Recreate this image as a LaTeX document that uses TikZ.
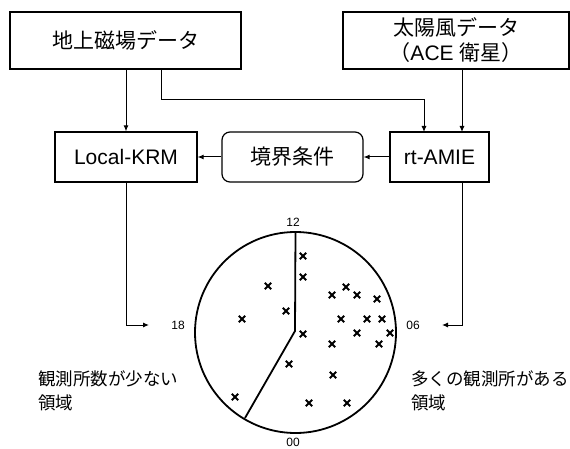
\documentclass[tikz,border=0pt]{standalone}
\usepackage{fontspec}
\setmainfont{Liberation Sans}
\newfontfamily\jp{Noto Sans CJK JP}
\usetikzlibrary{arrows.meta}
\begin{document}
\begin{tikzpicture}[x=1pt,y=-1pt,
  box/.style={draw,line width=1.2pt,inner sep=0pt,font=\fontsize{21}{25}\selectfont},
  rbox/.style={box,rounded corners=8pt},
  conn/.style={line width=1pt,-{Latex[length=6pt,width=5pt]}},
  hour/.style={font=\fontsize{12}{14}\selectfont,inner sep=0pt},
  note/.style={font=\jp\fontsize{17.5}{24}\selectfont,align=left,inner sep=0pt,anchor=north west},
  xmark/.style={line width=1.8pt}]
\useasboundingbox (0,0) rectangle (570,449);
\node[box,minimum width=231pt,minimum height=57pt] (geo) at (125.5,40.5) {\jp 地上磁場データ};
\node[box,minimum width=226pt,minimum height=57pt,align=center,font=\fontsize{21}{25}\selectfont] (sw) at (456,40.5) {{\jp 太陽風データ}\\{\jp （}ACE {\jp 衛星）}};
\node[box,minimum width=142pt,minimum height=50pt] (krm) at (126,157) {Local-KRM};
\node[rbox,minimum width=141pt,minimum height=50pt] (bc) at (292.5,157) {\jp 境界条件};
\node[box,minimum width=99pt,minimum height=50pt] (amie) at (439.5,157) {rt-AMIE};
% circle
\node[draw,circle,line width=1.8pt,minimum size=201pt,inner sep=0pt] (c) at (295.5,332.5) {};
\coordinate (bend) at (295,331);
\draw[line width=1.8pt] (c.north) -- (bend) -- (245,418);
\node[hour] (h12) at (293,222) {12};
\node[hour] (h18) at (178,325) {18};
\node[hour] (h06) at (413,325) {06};
\node[hour] (h00) at (293,442.5) {00};
% connectors
\draw[conn] (geo.south -| krm) -- (krm.north);
\draw[conn] (161,69) |- (424,100) -- (424,132);
\draw[conn] (sw.south -| 462,0) -- (462,132);
\draw[conn] (amie.west) -- (bc.east);
\draw[conn] (bc.west) -- (krm.east);
\coordinate (lin) at (149,325);
\coordinate (rin) at (442,325);
\draw[conn] (krm.south) |- (lin);
\draw[conn] (462,182) |- (rin);
% crosses
\foreach \px/\py in {303/256,303/277,268/286,346/287,332/295,357/295,377/299,286/311,242/319,341/319,367/319,382/319,390/333,303/334,357/333,332/344,379/344,289/364,333/375,235/397,309/403,347/403}
  \draw[xmark] (\px-3.2,\py-3.2) -- (\px+3.2,\py+3.2) (\px-3.2,\py+3.2) -- (\px+3.2,\py-3.2);
% notes
\node[note] (ln) at (38,370) {観測所数が少ない\\領域};
\node[note] (rn) at (411,370) {多くの観測所がある\\領域};
\end{tikzpicture}
\end{document}
